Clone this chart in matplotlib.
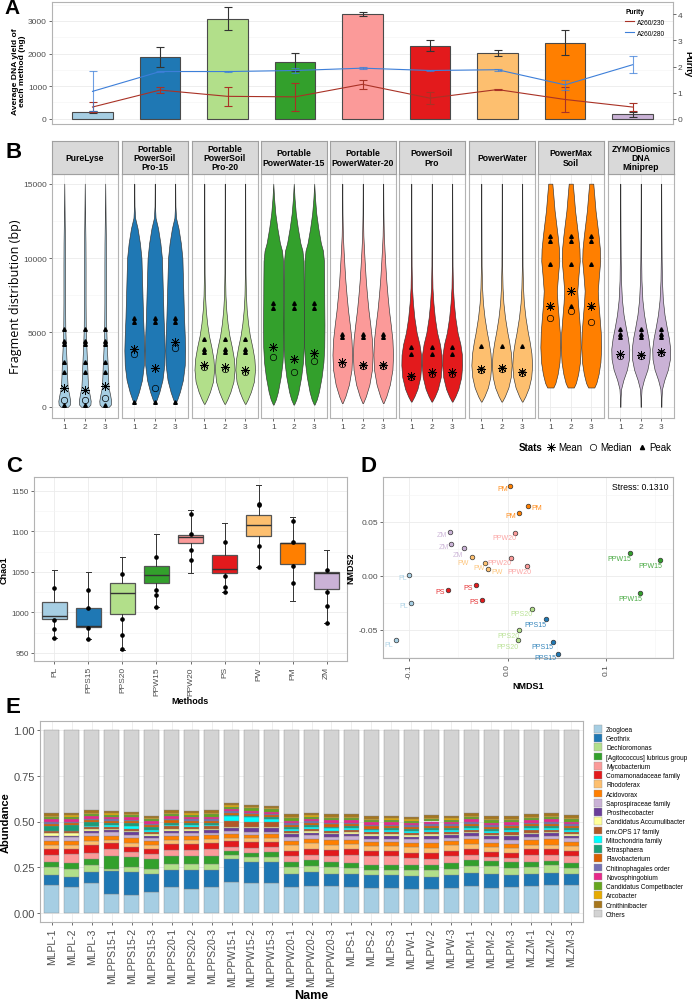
import numpy as np
import matplotlib
matplotlib.use("Agg")
import matplotlib.pyplot as plt
from matplotlib.lines import Line2D
from matplotlib.patches import Patch
from matplotlib.ticker import MultipleLocator

plt.rcParams["font.family"] = ["Liberation Sans", "DejaVu Sans"]

W, H = 692, 1003

# ---------------- shared method info ----------------
methods = ["PL", "PPS15", "PPS20", "PPW15", "PPW20", "PS", "PW", "PM", "ZM"]
method_colors = ["#A6CEE3", "#1F78B4", "#B2DF8A", "#33A02C", "#FB9A99",
                 "#E31A1C", "#FDBF6F", "#FF7F00", "#CAB2D6"]
method_titles = ["PureLyse", "Portable\nPowerSoil\nPro-15", "Portable\nPowerSoil\nPro-20",
                 "Portable\nPowerWater-15", "Portable\nPowerWater-20", "PowerSoil\nPro",
                 "PowerWater", "PowerMax\nSoil", "ZYMOBiomics\nDNA\nMiniprep"]

# ---------------- A: yield + purity ----------------
yield_mean = [205, 1900, 3070, 1740, 3210, 2240, 2020, 2330, 135]
yield_sd = [30, 300, 345, 280, 70, 175, 90, 380, 75]
a230_mean = [0.45, 1.10, 0.86, 0.84, 1.32, 0.79, 1.12, 0.74, 0.45]
a230_sd = [0.20, 0.12, 0.37, 0.54, 0.18, 0.24, 0.02, 0.49, 0.17]
a280_mean = [1.05, 1.81, 1.81, 1.85, 1.94, 1.85, 1.88, 1.30, 2.07]
a280_sd = [0.77, 0.02, 0.02, 0.10, 0.05, 0.03, 0.04, 0.20, 0.32]

# ---------------- B: fragment violins ----------------
violin_bp = [
    [0, 150, 400, 800, 1300, 2000, 2800, 4000, 5200, 7000, 9500, 11000, 12500, 15000],
    [250, 500, 1000, 1800, 2800, 3800, 4800, 6000, 7500, 9000, 10000, 11000, 12000, 12700, 13500, 15000],
    [200, 500, 1000, 1700, 2500, 3200, 4000, 4800, 5600, 6500, 7500, 9000, 15000],
    [150, 500, 1000, 2000, 3000, 4000, 5500, 7000, 8500, 9800, 10500, 11000, 12000, 13000, 14000, 15000],
    [250, 700, 1500, 2500, 3500, 4500, 5500, 6500, 7500, 8500, 9500, 10500, 11500, 13000, 15000],
    [350, 700, 1200, 2000, 2800, 3500, 4200, 5000, 6000, 7000, 8000, 9500, 15000],
    [350, 700, 1300, 2000, 2800, 3600, 4400, 5000, 6000, 7000, 8000, 9500, 15000],
    [1300, 1600, 2200, 3000, 4000, 5000, 6000, 7000, 7800, 8800, 9800, 10600, 11500, 12300, 13200, 14200, 15000],
    [0, 600, 1200, 1800, 2500, 3200, 3900, 4600, 5300, 6200, 7200, 8500, 10000, 12000, 15000],
]
violin_w = [
    [0.35, 0.55, 0.58, 0.48, 0.33, 0.28, 0.24, 0.16, 0.10, 0.08, 0.08, 0.07, 0.04, 0.0],
    [0.04, 0.20, 0.45, 0.75, 0.93, 0.97, 0.93, 0.86, 0.80, 0.74, 0.70, 0.55, 0.32, 0.08, 0.02, 0.0],
    [0.03, 0.25, 0.55, 0.85, 0.96, 0.90, 0.70, 0.45, 0.28, 0.15, 0.07, 0.03, 0.0],
    [0.03, 0.25, 0.45, 0.72, 0.90, 0.98, 1.00, 0.98, 0.97, 0.95, 0.85, 0.65, 0.40, 0.20, 0.08, 0.0],
    [0.03, 0.30, 0.65, 0.90, 0.96, 0.90, 0.74, 0.56, 0.42, 0.30, 0.21, 0.13, 0.06, 0.02, 0.0],
    [0.03, 0.30, 0.60, 0.88, 0.97, 0.95, 0.80, 0.52, 0.30, 0.16, 0.07, 0.03, 0.0],
    [0.03, 0.30, 0.65, 0.88, 0.97, 0.90, 0.72, 0.55, 0.32, 0.16, 0.08, 0.03, 0.0],
    [0.30, 0.50, 0.72, 0.90, 0.97, 0.93, 0.82, 0.70, 0.64, 0.75, 0.88, 0.85, 0.72, 0.58, 0.42, 0.30, 0.20],
    [0.02, 0.03, 0.08, 0.30, 0.65, 0.85, 0.88, 0.75, 0.55, 0.32, 0.16, 0.07, 0.04, 0.02, 0.0],
]
frag_mean = [[1250, 1100, 1430], [3890, 2590, 4380], [2820, 2660, 2500],
             [4000, 3220, 3620], [3000, 2820, 2820], [2100, 2330, 2330],
             [2550, 2590, 2330], [6760, 7800, 6800], [3560, 3490, 3710]]
frag_median = [[490, 490, 580], [3560, 1250, 3940], [2660, 2550, 2370],
               [3330, 2330, 3110], [2890, 2770, 2770], [1990, 2210, 2210],
               [2500, 2550, 2300], [5950, 6460, 5730], [3450, 3400, 3650]]
frag_peaks = [[5200, 4450, 4230, 3000, 2370, 150], [5950, 5730, 350], [4560, 3890, 3670],
              [6980, 6650], [4900, 4680], [4000, 3560], [4120],
              [11500, 11160, 9600, 6750], [5200, 4900, 4680]]

# ---------------- C: Chao1 boxplots ----------------
chao_lo = [968, 967, 953, 1007, 1048, 1025, 1056, 1014, 987]
chao_q1 = [992, 982, 998, 1036, 1085, 1049, 1094, 1060, 1029]
chao_med = [996, 983, 1024, 1046, 1093, 1054, 1108, 1085, 1048]
chao_q3 = [1013, 1006, 1036, 1057, 1096, 1071, 1120, 1086, 1050]
chao_hi = [1052, 1050, 1068, 1097, 1126, 1110, 1157, 1118, 1077]
chao_pts = [[1030, 990, 979, 968], [1028, 981, 967, 1005], [1047, 992, 972, 955],
            [1068, 1027, 1022, 1007], [1097, 1077, 1121, 1065], [1087, 1045, 1031, 1025],
            [1132, 1134, 1082, 1056], [1113, 1087, 1057, 1036], [1052, 1008, 1025, 987]]

# ---------------- D: NMDS ----------------
nmds_group = ["PM"] * 3 + ["ZM"] * 3 + ["PPW20"] * 3 + ["PW"] * 3 + ["PPW15"] * 3 + \
             ["PL"] * 3 + ["PS"] * 3 + ["PPS20"] * 3 + ["PPS15"] * 3
nmds1 = [0.003, 0.0213, 0.0112, -0.0586, -0.0569, -0.0443, 0.0071, 0.0034, 0.020,
         -0.0362, -0.023, -0.0193, 0.1239, 0.155, 0.1347, -0.0995, -0.0975, -0.113,
         -0.0602, -0.0315, -0.0254, 0.0244, 0.0112, 0.0105, 0.0386, 0.0457, 0.0514]
nmds2 = [0.0833, 0.0645, 0.0583, 0.0407, 0.029, 0.0256, 0.0398, 0.0167, 0.0093,
         0.017, 0.012, 0.0065, 0.0207, 0.0145, -0.0164, 0.0003, -0.0256, -0.0593,
         -0.013, -0.009, -0.0222, -0.0306, -0.0503, -0.0599, -0.0401, -0.0611, -0.0722]
# label offsets in pixels (dx right, dy down)
label_dx = [-8, 8, -8, -8, -8, -6, -10, -11, -8, -9, -6, 9, -10, -10, -10,
            -7, -8, -7, -8, -8, -8, -10, -10, -10, -10, -10, -13]
label_dy = [3, 1, 3, 3, 2, 6, 5, 5, 6, 5, 5, 3, 5, 5, 5, 2, 2, 5, 2, 2, 2, 5, 5, 6, 5, 5, 4]

# ---------------- E: relative abundance ----------------
samples = ["MLPL-1", "MLPL-2", "MLPL-3", "MLPPS15-1", "MLPPS15-2", "MLPPS15-3",
           "MLPPS20-1", "MLPPS20-2", "MLPPS20-3", "MLPPW15-1", "MLPPW15-2", "MLPPW15-3",
           "MLPPW20-1", "MLPPW20-2", "MLPPW20-3", "MLPS-1", "MLPS-2", "MLPS-3",
           "MLPW-1", "MLPW-2", "MLPW-3", "MLPM-1", "MLPM-2", "MLPM-3",
           "MLZM-1", "MLZM-2", "MLZM-3"]
taxa = ["Zoogloea", "Geothrix", "Dechloromonas", "[Agitococcus] lubricus group",
        "Mycobacterium", "Comamonadaceae family", "Rhodoferax", "Acidovorax",
        "Saprospiraceae family", "Prosthecobacter", "Candidatus Accumulibacter",
        "env.OPS 17 family", "Mitochondria family", "Tetrasphaera", "Flavobacterium",
        "Chitinophagales order", "Novosphingobium", "Candidatus Competibacter",
        "Arcobacter", "Ornithinibacter", "Others"]
taxa_colors = ["#A6CEE3", "#1F78B4", "#B2DF8A", "#33A02C", "#FB9A99", "#E31A1C",
               "#FDBF6F", "#FF7F00", "#CAB2D6", "#6A3D9A", "#FFFF99", "#B15928",
               "#00FFFF", "#1B9E77", "#D95F02", "#7570B3", "#E7298A", "#66A61E",
               "#E6AB02", "#A6761D", "#D3D3D3"]

zoogloea = [0.150, 0.142, 0.164, 0.104, 0.100, 0.115, 0.140, 0.133, 0.142, 0.170, 0.161, 0.164, 0.142, 0.146,
            0.146, 0.142, 0.137, 0.137, 0.131, 0.128, 0.137, 0.146, 0.137, 0.140, 0.146, 0.155, 0.150]
geothrix = [0.056, 0.055, 0.060, 0.126, 0.123, 0.098, 0.097, 0.104, 0.095, 0.126, 0.118, 0.115, 0.071, 0.078,
            0.064, 0.071, 0.069, 0.069, 0.073, 0.069, 0.069, 0.073, 0.078, 0.066, 0.067, 0.065, 0.060]
dechloromonas = [0.044, 0.045, 0.040, 0.011, 0.027, 0.027, 0.031, 0.031, 0.031, 0.020, 0.025, 0.029, 0.036, 0.035,
                 0.040, 0.033, 0.030, 0.030, 0.030, 0.035, 0.035, 0.040, 0.040, 0.040, 0.040, 0.040, 0.035]
agitococcus = [0.029, 0.030, 0.030, 0.069, 0.055, 0.056, 0.042, 0.042, 0.042, 0.020, 0.025, 0.025, 0.030, 0.030,
               0.030, 0.028, 0.028, 0.028, 0.030, 0.030, 0.030, 0.030, 0.030, 0.032, 0.028, 0.022, 0.030]
mycobacterium = [0.040, 0.048, 0.035, 0.040, 0.030, 0.025, 0.035, 0.035, 0.040, 0.025, 0.025, 0.025, 0.030, 0.030,
                 0.030, 0.045, 0.045, 0.045, 0.035, 0.035, 0.040, 0.030, 0.018, 0.020, 0.035, 0.032, 0.035]
comamonadaceae = [0.033, 0.030, 0.040, 0.030, 0.028, 0.028, 0.030, 0.030, 0.030, 0.030, 0.032, 0.032, 0.030, 0.032,
                  0.032, 0.032, 0.030, 0.032, 0.030, 0.030, 0.030, 0.030, 0.030, 0.030, 0.032, 0.035, 0.030]
rhodoferax = [0.018, 0.020, 0.022, 0.020, 0.022, 0.020, 0.025, 0.022, 0.022, 0.020, 0.022, 0.020, 0.030, 0.030,
              0.030, 0.025, 0.025, 0.025, 0.030, 0.030, 0.028, 0.028, 0.025, 0.025, 0.025, 0.025, 0.025]
acidovorax = [0.025, 0.025, 0.030, 0.022, 0.025, 0.022, 0.022, 0.025, 0.022, 0.020, 0.020, 0.020, 0.025, 0.025,
              0.025, 0.022, 0.022, 0.022, 0.025, 0.025, 0.022, 0.025, 0.025, 0.025, 0.025, 0.028, 0.025]
saprospiraceae = [0.018, 0.018, 0.018, 0.018, 0.018, 0.018, 0.015, 0.015, 0.015, 0.015, 0.015, 0.015, 0.020, 0.018,
                  0.018, 0.020, 0.020, 0.018, 0.018, 0.020, 0.018, 0.018, 0.020, 0.020, 0.018, 0.018, 0.018]
prosthecobacter = [0.010, 0.010, 0.010, 0.012, 0.012, 0.012, 0.012, 0.012, 0.012, 0.020, 0.020, 0.020, 0.015, 0.015,
                   0.015, 0.015, 0.015, 0.015, 0.015, 0.020, 0.015, 0.015, 0.015, 0.022, 0.015, 0.015, 0.015]
accumulibacter = [0.012, 0.012, 0.008, 0.008, 0.008, 0.008, 0.010, 0.010, 0.010, 0.006, 0.006, 0.006, 0.008, 0.008,
                  0.008, 0.008, 0.008, 0.008, 0.008, 0.008, 0.008, 0.008, 0.008, 0.008, 0.008, 0.008, 0.008]
env_ops17 = [0.012, 0.012, 0.012, 0.012, 0.012, 0.012, 0.015, 0.012, 0.012, 0.030, 0.028, 0.025, 0.012, 0.012,
             0.012, 0.012, 0.012, 0.012, 0.012, 0.012, 0.012, 0.012, 0.012, 0.012, 0.012, 0.012, 0.012]
mitochondria = [0.000, 0.002, 0.004, 0.010, 0.018, 0.015, 0.008, 0.008, 0.008, 0.028, 0.025, 0.020, 0.012, 0.012,
                0.012, 0.010, 0.010, 0.012, 0.012, 0.012, 0.010, 0.012, 0.012, 0.012, 0.012, 0.012, 0.012]
tetrasphaera = [0.030, 0.030, 0.022, 0.012, 0.012, 0.012, 0.012, 0.012, 0.012, 0.008, 0.008, 0.008, 0.010, 0.010,
                0.010, 0.010, 0.010, 0.010, 0.010, 0.010, 0.010, 0.010, 0.010, 0.010, 0.010, 0.010, 0.010]
flavobacterium = [0.012, 0.012, 0.012, 0.010, 0.012, 0.012, 0.012, 0.012, 0.012, 0.010, 0.010, 0.010, 0.012, 0.012,
                  0.012, 0.012, 0.012, 0.012, 0.012, 0.012, 0.012, 0.012, 0.012, 0.012, 0.012, 0.012, 0.012]
chitinophagales = [0.008, 0.008, 0.008, 0.008, 0.008, 0.008, 0.008, 0.008, 0.008, 0.008, 0.008, 0.008, 0.008, 0.008,
                   0.008, 0.008, 0.008, 0.008, 0.008, 0.010, 0.008, 0.008, 0.008, 0.008, 0.008, 0.008, 0.008]
novosphingobium = [0.014, 0.014, 0.014, 0.012, 0.012, 0.012, 0.014, 0.014, 0.014, 0.012, 0.012, 0.012, 0.014, 0.014,
                   0.014, 0.014, 0.014, 0.014, 0.014, 0.014, 0.014, 0.014, 0.014, 0.014, 0.014, 0.014, 0.014]
competibacter = [0.012, 0.012, 0.012, 0.012, 0.012, 0.012, 0.012, 0.012, 0.012, 0.012, 0.012, 0.012, 0.012, 0.012,
                 0.012, 0.012, 0.012, 0.012, 0.012, 0.012, 0.012, 0.012, 0.012, 0.012, 0.012, 0.012, 0.012]
arcobacter = [0.008, 0.008, 0.008, 0.008, 0.008, 0.008, 0.008, 0.008, 0.008, 0.008, 0.008, 0.008, 0.008, 0.008,
              0.008, 0.008, 0.008, 0.008, 0.008, 0.008, 0.008, 0.008, 0.008, 0.008, 0.008, 0.008, 0.008]
ornithinibacter = [0.014, 0.014, 0.014, 0.012, 0.012, 0.012, 0.014, 0.014, 0.014, 0.012, 0.012, 0.012, 0.014, 0.014,
                   0.014, 0.014, 0.014, 0.014, 0.014, 0.014, 0.014, 0.014, 0.014, 0.014, 0.014, 0.014, 0.014]

GRID = "#EBEBEB"
BORDER = "#B3B3B3"
TICKTXT = "#4D4D4D"


def add_ax(fig, left, top, right, bottom):
    # axes placed by pixel box of the 692x1003 canvas
    return fig.add_axes([left / W, 1 - bottom / H, (right - left) / W, (bottom - top) / H])


def gg_style(ax, size=6):
    ax.set_facecolor("white")
    for s in ax.spines.values():
        s.set_color(BORDER)
        s.set_linewidth(0.8)
    ax.tick_params(which="major", labelsize=size, labelcolor=TICKTXT, color="#333333",
                   length=2.2, width=0.5, pad=1.5)
    ax.tick_params(which="minor", length=0)
    ax.grid(True, which="major", color=GRID, lw=0.6)
    ax.grid(True, which="minor", color="#F4F4F4", lw=0.4)
    ax.set_axisbelow(True)


def panel_letter(fig, letter, x, y, size=16):
    fig.text(x / W, 1 - y / H, letter, fontsize=size, fontweight="bold", va="top", ha="left")


fig = plt.figure(figsize=(W / 100, H / 100), dpi=100)

# ======================= A =======================
C230 = "#A93226"
C280 = "#3D7FD9"
axA = add_ax(fig, 52, 3, 673, 125)
gg_style(axA)
xa = np.arange(len(methods))
axA.bar(xa, yield_mean, 0.6, color=method_colors, edgecolor="#4A4A4A", linewidth=0.8, zorder=2)
axA.errorbar(xa, yield_mean, yerr=yield_sd, fmt="none", ecolor="#333333",
             elinewidth=0.8, capsize=2.6, capthick=0.8, zorder=3)
axA.set_xlim(-0.6, 8.6)
axA.set_ylim(-160, 3580)
axA.set_yticks([0, 1000, 2000, 3000])
axA.yaxis.set_minor_locator(MultipleLocator(500))
axA.set_xticks([])
axA.grid(False, axis="x", which="both")
axA.set_ylabel("Average DNA yield of\neach method (ng)", fontsize=6.1, fontweight="bold", labelpad=3,
               linespacing=1.0)
axA.yaxis.set_label_coords(-0.042, 0.44)

axA2 = axA.twinx()
axA2.set_ylim(-160 / 800, 3580 / 800)
axA2.set_yticks([0, 1, 2, 3, 4])
for s in axA2.spines.values():
    s.set_visible(False)
axA2.tick_params(labelsize=6, labelcolor=TICKTXT, color="#333333", length=2.2, width=0.5, pad=1.2)
axA2.plot(xa, a230_mean, color=C230, lw=0.8, zorder=4)
axA2.errorbar(xa, a230_mean, yerr=a230_sd, fmt="none", ecolor=C230, elinewidth=0.8,
              capsize=2.6, capthick=0.8, zorder=4)
axA2.plot(xa, a280_mean, color=C280, lw=0.8, zorder=4)
axA2.errorbar(xa, a280_mean, yerr=a280_sd, fmt="none", ecolor=C280, elinewidth=0.8,
              capsize=2.6, capthick=0.8, alpha=0.75, zorder=4)
fig.text(688 / W, 1 - 64 / H, "Purity", fontsize=6.6, fontweight="bold", rotation=270,
         ha="center", va="center")
legA = axA2.legend([Line2D([], [], color=C230, lw=0.8), Line2D([], [], color=C280, lw=0.8)],
                   ["A260/230", "A260/280"], title="Purity", loc="upper left",
                   bbox_to_anchor=(0.918, 0.98), frameon=False, fontsize=4.8,
                   title_fontproperties={"weight": "bold", "size": 4.8},
                   handlelength=1.3, handletextpad=0.5, labelspacing=0.6, alignment="left",
                   borderpad=0)
panel_letter(fig, "A", 4, -1, size=15)

# ======================= B =======================
facet_left = [52, 122, 192, 261, 330, 399, 469, 538, 608]
facet_w = 65.5
for i, m in enumerate(methods):
    l = facet_left[i]
    ax = add_ax(fig, l, 175, l + facet_w, 419)
    gg_style(ax)
    ax.set_xlim(0.4, 3.6)
    ax.set_ylim(-750, 15650)
    ax.set_xticks([1, 2, 3])
    ax.set_xticklabels(["1", "2", "3"])
    ax.set_yticks([0, 5000, 10000, 15000])
    ax.yaxis.set_minor_locator(MultipleLocator(2500))
    if i > 0:
        ax.tick_params(axis="y", labelleft=False, length=0)
    yb = np.array(violin_bp[i])
    wv = np.array(violin_w[i])
    for r in range(3):
        c = r + 1
        ax.fill_betweenx(yb, c - wv / 2, c + wv / 2, facecolor=method_colors[i],
                         edgecolor="#333333", linewidth=0.45, zorder=2)
        ax.plot([c] * len(frag_peaks[i]), frag_peaks[i], ls="none", marker="^", ms=2.6,
                color="black", zorder=3)
        ax.plot([c], [frag_median[i][r]], ls="none", marker="o", ms=4.6, mfc="none",
                mec="black", mew=0.5, zorder=3)
        ax.plot([c], [frag_mean[i][r]], ls="none", marker=(8, 2, 0), ms=6.5,
                color="black", mew=0.5, zorder=3)
    sax = add_ax(fig, l, 142, l + facet_w, 175)
    sax.set_facecolor("#D9D9D9")
    sax.set_xticks([])
    sax.set_yticks([])
    for s in sax.spines.values():
        s.set_color("#A0A0A0")
        s.set_linewidth(0.8)
    sax.text(0.5, 0.5, method_titles[i], ha="center", va="center", fontsize=6.2,
             fontweight="bold", linespacing=1.0, transform=sax.transAxes)

fig.text(16 / W, 1 - 297 / H, "Fragment distribution (bp)", rotation=90, ha="center",
         va="center", fontsize=9, family=["Open Sans", "DejaVu Sans"])
panel_letter(fig, "B", 6, 142)

stat_handles = [Line2D([], [], ls="none", marker=(8, 2, 0), ms=6, color="black", mew=0.5),
                Line2D([], [], ls="none", marker="o", ms=4.6, mfc="none", mec="black", mew=0.5),
                Line2D([], [], ls="none", marker="^", ms=3, color="black")]
fig.legend(stat_handles, ["Mean", "Median", "Peak"], ncol=3, loc="center right",
           bbox_to_anchor=(671 / W, 1 - 448 / H), frameon=False, fontsize=7,
           handlelength=0.9, handletextpad=0.3, columnspacing=0.6, borderaxespad=0, borderpad=0)
fig.text(519 / W, 1 - 448 / H, "Stats", fontsize=7, fontweight="bold", va="center", ha="left")

# ======================= C =======================
axC = add_ax(fig, 34, 478, 347, 662)
gg_style(axC, size=5.8)
stats = []
for i in range(len(methods)):
    stats.append({"whislo": chao_lo[i], "q1": chao_q1[i], "med": chao_med[i],
                  "q3": chao_q3[i], "whishi": chao_hi[i], "fliers": []})
bp = axC.bxp(stats, positions=xa, widths=0.75, patch_artist=True, capwidths=0.14,
             boxprops={"edgecolor": "#555555", "linewidth": 0.9},
             medianprops={"color": "#333333", "linewidth": 1.0},
             whiskerprops={"color": "#333333", "linewidth": 0.7},
             capprops={"color": "#333333", "linewidth": 0.7}, manage_ticks=False)
for patch, col in zip(bp["boxes"], method_colors):
    patch.set_facecolor(col)
for i, pts in enumerate(chao_pts):
    axC.plot([i] * len(pts), pts, ls="none", marker="o", ms=2.3, color="black", zorder=4)
axC.set_xlim(-0.6, 8.6)
axC.set_ylim(940, 1167)
axC.set_yticks([950, 1000, 1050, 1100, 1150])
axC.yaxis.set_minor_locator(MultipleLocator(25))
axC.set_xticks(xa)
axC.set_xticklabels(methods, rotation=90, fontsize=6)
axC.set_ylabel("Chao1", fontsize=6.5, fontweight="bold", labelpad=2)
axC.set_xlabel("Methods", fontsize=6.5, fontweight="bold", labelpad=1)
panel_letter(fig, "C", 6, 456)

# ======================= D =======================
axD = add_ax(fig, 383, 478, 673, 659)
gg_style(axD, size=6)
col_of = dict(zip(methods, method_colors))
for k in range(len(nmds1)):
    col = col_of[nmds_group[k]]
    axD.scatter(nmds1[k], nmds2[k], s=11, facecolor=col, edgecolor="#333333",
                linewidth=0.5, zorder=3)
    axD.annotate(nmds_group[k], (nmds1[k], nmds2[k]),
                 xytext=(label_dx[k] * 0.72, -label_dy[k] * 0.72), textcoords="offset points",
                 ha="center", va="center", fontsize=5, color=col, alpha=0.9, zorder=4)
axD.set_xlim(-0.1264, 0.168)
axD.set_ylim(-0.0762, 0.0914)
axD.set_xticks([-0.1, 0.0, 0.1])
axD.set_xticklabels(["-0.1", "0.0", "0.1"], rotation=90)
axD.xaxis.set_minor_locator(MultipleLocator(0.05))
axD.set_yticks([-0.05, 0.0, 0.05])
axD.set_yticklabels(["-0.05", "0.00", "0.05"])
axD.yaxis.set_minor_locator(MultipleLocator(0.025))
axD.text(0.985, 0.975, "Stress: 0.1310", transform=axD.transAxes, ha="right", va="top", fontsize=6.3)
axD.set_xlabel("NMDS1", fontsize=6.5, fontweight="bold", labelpad=2)
axD.set_ylabel("NMDS2", fontsize=6.5, fontweight="bold", labelpad=2)
panel_letter(fig, "D", 361, 456)

# ======================= E =======================
axE = add_ax(fig, 40, 722, 583, 923)
gg_style(axE, size=8)
taxa_vals = [zoogloea, geothrix, dechloromonas, agitococcus, mycobacterium, comamonadaceae,
             rhodoferax, acidovorax, saprospiraceae, prosthecobacter, accumulibacter, env_ops17,
             mitochondria, tetrasphaera, flavobacterium, chitinophagales, novosphingobium,
             competibacter, arcobacter, ornithinibacter]
xe = np.arange(len(samples))
bottom = np.zeros(len(samples))
for vals, col in zip(taxa_vals, taxa_colors[:-1]):
    vals = np.array(vals)
    axE.bar(xe, vals, 0.75, bottom=bottom, color=col, edgecolor="#7F7F7F", linewidth=0.25, zorder=2)
    bottom += vals
others = 1 - bottom  # remainder of each sample
axE.bar(xe, others, 0.75, bottom=bottom, color=taxa_colors[-1], edgecolor="#7F7F7F",
        linewidth=0.25, zorder=2)
axE.set_xlim(-0.6, 26.6)
axE.set_ylim(-0.05, 1.05)
axE.set_yticks([0, 0.25, 0.5, 0.75, 1.0])
axE.set_yticklabels(["0.00", "0.25", "0.50", "0.75", "1.00"])
axE.set_xticks(xe)
axE.set_xticklabels(samples, rotation=90, fontsize=7.5)
axE.set_ylabel("Abundance", fontsize=8, fontweight="bold", labelpad=2)
axE.set_xlabel("Name", fontsize=9, fontweight="bold", labelpad=2)
handles = [Patch(facecolor=c, edgecolor="#9A9A9A", linewidth=0.3) for c in taxa_colors]
fig.legend(handles, taxa, loc="upper left", bbox_to_anchor=(594 / W, 1 - 726 / H),
           frameon=False, fontsize=4.7, handlelength=1.3, handleheight=1.4,
           labelspacing=0.2, handletextpad=0.55, borderaxespad=0, borderpad=0)
panel_letter(fig, "E", 6, 697)

fig.savefig("out.png", dpi=100)
